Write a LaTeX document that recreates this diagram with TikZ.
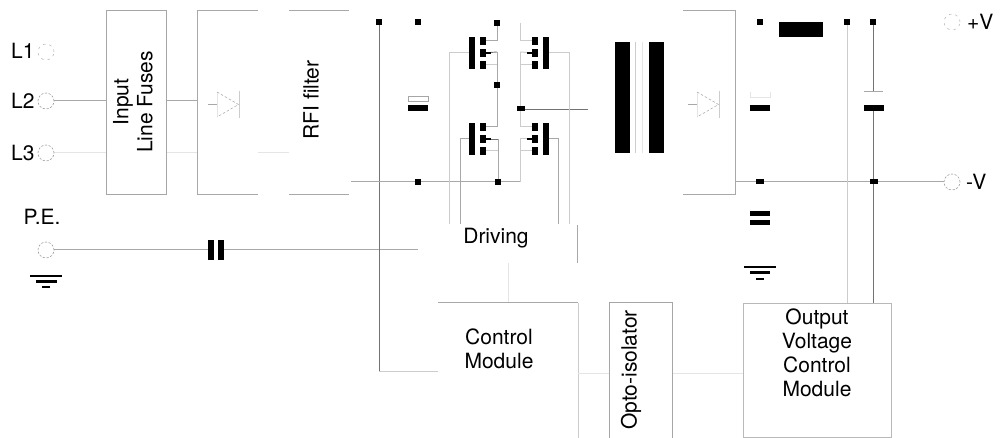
\documentclass[tikz,border=0pt]{standalone}
\usepackage{fontspec}
\setmainfont{TeX Gyre Heros}
\pgfdeclarelayer{wires}
\pgfsetlayers{wires,main}
\definecolor{wdarkc}{gray}{0.45}
\definecolor{wmidc}{gray}{0.66}
\definecolor{wlightc}{gray}{0.8}
\definecolor{wfaintc}{gray}{0.9}
\tikzset{
  wdark/.style={draw=wdarkc,line width=0.9pt},
  wmid/.style={draw=wmidc,line width=1pt},
  wlight/.style={draw=wlightc,line width=1pt},
  wfaint/.style={draw=wfaintc,line width=1pt},
  blk/.style={fill=black,draw=none,inner sep=0pt,outer sep=0pt,minimum width=#1},
  pad/.style={blk=6pt,minimum height=6.5pt},
  fet/.style={blk=6pt,minimum height=8pt},
  smallpad/.style={blk=8pt,minimum height=5pt},
  plate/.style={blk=20pt,minimum height=6pt},
  gatebar/.style={blk=6.5pt,minimum height=32pt},
  corebar/.style={blk=15pt,minimum height=111pt},
  term/.style={circle,draw=gray!75,line width=0.6pt,dash pattern=on 2.2pt off 1.6pt,inner sep=0pt,outer sep=0pt,minimum size=16pt},
  termfaint/.style={term,draw=gray!50,dash pattern=on 2.5pt off 4pt},
  txt/.style={font=\fontsize{21}{24}\selectfont,inner sep=0pt,align=center},
  boxn/.style={draw=gray!70,line width=1pt,inner sep=0pt,outer sep=0pt},
  dashtri/.style={draw=gray!65,line width=0.6pt,dash pattern=on 2.5pt off 2pt},
  arrowtick/.style={draw=black,line width=1.6pt},
}
\begin{document}
\begin{tikzpicture}[x=1pt,y=-1pt]
\useasboundingbox (0,0) rectangle (1004,438);
% terminals
\node[termfaint] (L1) at (46,52) {};
\node[term] (L2) at (46,101) {};
\node[term] (L3) at (46,153) {};
\node[term] (PE) at (46,250) {};
\node[termfaint] (Vp) at (952,22) {};
\node[term] (Vm) at (952,182) {};
\node[txt,anchor=west] (tL1) at (11,51) {L1};
\node[txt,anchor=west] (tL2) at (11,101) {L2};
\node[txt,anchor=west] (tL3) at (11,153) {L3};
\node[txt] (tPE) at (42,217) {P.E.};
\node[txt,anchor=west] (tVp) at (967,22) {+V};
\node[txt,anchor=west] (tVm) at (966,182) {-V};
% boxes
\node[boxn,minimum width=60pt,minimum height=184pt] (fuses) at (136,103) {};
\node[txt,rotate=90] (tfuses) at (133,102) {Input\\Line Fuses};
\node[boxn,minimum width=63pt,minimum height=136pt] (opto) at (640.5,371) {};
\node[txt,rotate=90] (topto) at (631,370) {Opto-isolator};
\node[boxn,draw=gray!55,minimum width=148pt,minimum height=133pt] (ovc) at (817,370.5) {};
\node[txt,anchor=north] (tovc) at (817,309) {Output\\Voltage\\Control\\Module};
\node[txt,rotate=90] (trfi) at (311,100) {RFI filter};
\node[txt] (tdrv) at (496,238) {Driving};
\node[txt] (tctl) at (499,349) {Control\\Module};
% open boxes
\coordinate (r1a) at (258,11); \coordinate (r1b) at (197,11); \coordinate (r1c) at (197,195); \coordinate (r1d) at (258,195);
\coordinate (rfa) at (289,11); \coordinate (rfb) at (349,11); \coordinate (rfc) at (289,195); \coordinate (rfd) at (349,195);
\coordinate (r2a) at (683,11); \coordinate (r2b) at (735,11); \coordinate (r2c) at (735,195); \coordinate (r2d) at (683,195);
\coordinate (drvA) at (577,225); \coordinate (drvB) at (577,263);
\coordinate (ctA) at (438,303); \coordinate (ctB) at (578,303); \coordinate (ctC) at (578,438);
% pads
\node[pad] (p1) at (379,22) {};
\node[pad] (p2) at (418,22) {};
\node[pad] (p3) at (497,23) {};
\node[pad] (p4) at (418,182) {};
\node[pad] (p5) at (498,182) {};
\node[pad] (p6) at (497,85) {};
\node[smallpad] (p7) at (520.5,109) {};
\node[pad] (p8) at (760,22) {};
\node[pad] (p9) at (847,22) {};
\node[pad] (p10) at (873,22) {};
\node[smallpad] (p11) at (759.5,182) {};
\node[smallpad] (p12) at (873.5,182) {};
% mosfets
\foreach \n/\gx/\sx/\y in {a/472/483/53,b/546/535/53,c/472/483/139,d/546/535/139}{
  \node[gatebar] (g\n) at (\gx,\y) {};
  \node[fet] (\n t) at (\sx,\y-12) {};
  \node[fet] (\n m) at (\sx,\y) {};
  \node[fet] (\n b) at (\sx,\y+12) {};
}
% transformer
\node[corebar] (core1) at (622.5,97.5) {};
\node[corebar] (core2) at (656.5,97.5) {};
% capacitors and inductor
\node[plate] (c1a) at (418,108) {};
\node[draw=gray!70,line width=0.7pt,minimum width=20pt,minimum height=5.5pt,inner sep=0pt,outer sep=0pt] (c1b) at (418,99) {};
\node[blk=44pt,minimum height=15pt] (ind) at (801,29.5) {};
\node[plate] (c2a) at (760,108) {};
\node[plate] (c3a) at (873.5,108) {};
\node[blk=20pt,minimum height=5pt] (c4a) at (760,213.5) {};
\node[blk=20pt,minimum height=5pt] (c4b) at (760,222.5) {};
\node[blk=6pt,minimum height=20pt] (c5a) at (210.5,250) {};
\node[blk=6pt,minimum height=20pt] (c5b) at (221,250) {};
\coordinate (c2l) at (750,92); \coordinate (c2m) at (750,97); \coordinate (c2n) at (770,97); \coordinate (c2r) at (770,92);
\coordinate (c3l) at (864,91); \coordinate (c3r) at (883,91); \coordinate (c3t) at (873.5,91);
% grounds
\node[blk=32pt,minimum height=1.2pt] (g1a) at (46,276) {};
\node[blk=21pt,minimum height=2.5pt] (g1b) at (46,281.5) {};
\node[blk=8pt,minimum height=2pt] (g1c) at (46,287) {};
\node[blk=32pt,minimum height=1.2pt] (g2a) at (760,267) {};
\node[blk=20pt,minimum height=3pt] (g2b) at (760,273) {};
\node[blk=8pt,minimum height=2.5pt] (g2c) at (760,279) {};
% diodes
\foreach \n/\x in {A/217,B/697}{
  \coordinate (d\n i) at (\x-9,104);
  \coordinate (d\n a) at (\x,92); \coordinate (d\n b) at (\x,117);
  \coordinate (d\n t) at (\x+21.5,104.5);
  \coordinate (d\n u) at (\x+22,91); \coordinate (d\n v) at (\x+22,118);
}
% free wire ends
\coordinate (drvIn) at (418,250);
\coordinate (ctIn) at (438,371);
\coordinate (busL) at (351,182);
\coordinate (xfIn) at (588,109);
\coordinate (drvLow) at (508,263); \coordinate (ctTop) at (508,303);
\coordinate (w1) at (449,224); \coordinate (w2) at (460,224); \coordinate (w3) at (558,224); \coordinate (w4) at (569,224);
\coordinate (x1) at (635,42); \coordinate (x2) at (635,153); \coordinate (x3) at (642,42); \coordinate (x4) at (642,153);
\coordinate (s1) at (520,23); \coordinate (s2) at (520,127); \coordinate (s3) at (520,182);\coordinate (s4) at (520,139);
\coordinate (s5) at (520,52);\coordinate (s6) at (520,65);\coordinate (s7) at (520,151);\coordinate (s8) at (520,41);
\coordinate (t1) at (497,52);\coordinate (t2) at (497,65);\coordinate (t3) at (497,127);\coordinate (t4) at (498,139);\coordinate (t5) at (498,151);\coordinate (t6) at (497,41);
\coordinate (lowA) at (578,373);\coordinate (hA) at (609,373);\coordinate (hB) at (672,373);\coordinate (hC) at (743,373);
\coordinate (ovT1) at (847,304);\coordinate (ovT2) at (873.5,304);
\begin{pgfonlayer}{wires}
\draw[wmid] (L2) -- (fuses.west |- L2);
\draw[wmid] (fuses.east |- L2) -- (r1b |- L2);
\draw[wfaint] (L3) -- (fuses.west |- L3);
\draw[wfaint] (fuses.east |- L3) -- (r1b |- L3);
\draw[wfaint] (r1a |- L3) -- (rfa |- L3);
\draw[wmid] (r1a) -- (r1b) -- (r1c) -- (r1d);
\draw[wmid] (rfa) -- (rfb);
\draw[wmid] (rfc) -- (rfd);
\draw[wmid] (r2a) -- (r2b) -- (r2c) -- (r2d);
\draw[wmid] (PE) -- (c5a);
\draw[wmid] (c5b) -- (drvIn);
\draw[wdark] (p1) -- (p1 |- ctIn);
\draw[wlight] (p1 |- ctIn) -- (ctIn);
\draw[wmid] (busL) -- (p4) -- (p5) -- (s3);
\draw[wlight] (s3) -- (s4);
\draw[wmid] (drvA) -- (drvB);
\draw[wfaint] (drvLow) -- (ctTop);
\draw[wmid] (ctA) -- (ctB);
\draw[wlight] (ctB) -- (ctC);
\draw[wfaint] (lowA) -- (hA);
\draw[wfaint] (hB) -- (hC);
% bridge
\draw[wmid] (p3) -- (t6) -- (at);
\draw[wmid] (t1) -- (t3) -- (ct);
\draw[wdark] (t1) -- (am);
\draw[wlight] (t2) -- (ab);
\draw[wdark] (t4) -- (cm);
\draw[wlight] (t5) -- (cb);
\draw[wmid] (t4) -- (p5);
\draw[wlight] (s1) -- (s8) -- (bt);
\draw[wlight] (s5) -- (s2) -- (dt);
\draw[wlight] (s5) -- (bm);
\draw[wlight] (s6) -- (bb);
\draw[wlight] (s4) -- (dm);
\draw[wlight] (s7) -- (db);
\draw[wdark] (p7) -- (xfIn);
% gates
\draw[wlight] (ga) -| (w1);
\draw[wlight] (gb) -| (w4);
\draw[wmid] (gc) -| (w2);
\draw[wmid] (gd) -| (w3);
% transformer wires
\draw[wlight] (x1) -- (x2);
\draw[wfaint] (x3) -- (x4);
% output
\draw[wmid] (r2b |- p11) -- (Vm);
\draw[wlight] (p9) -- (ovT1);
\draw[wdark] (p10 -| c3t) -- (c3t);
\draw[wdark] (c3a) -- (ovT2);
\draw[wfaint,line width=0.7pt] (c2l) -- (c2m) -- (c2n) -- (c2r);
\draw[wmid,line width=0.7pt] (c3l) -- (c3r);
% diode symbols
\foreach \n in {A,B}{
  \draw[wmid,line width=0.8pt] (d\n i) -- (d\n i -| d\n a);
  \draw[wfaint,line width=0.8pt] (d\n a) -- (d\n b);
  \draw[dashtri] (d\n a) -- (d\n t) -- (d\n b);
  \draw[wlight,line width=0.7pt] (d\n u) -- (d\n v);
}
\end{pgfonlayer}
% body arrows
\draw[arrowtick] (am.east) -- +(5,0);
\draw[arrowtick] (cm.east) -- +(5,0);
\draw[arrowtick] (bm.west) -- +(-5,0);
\draw[arrowtick] (dm.west) -- +(-5,0);
\end{tikzpicture}
\end{document}
